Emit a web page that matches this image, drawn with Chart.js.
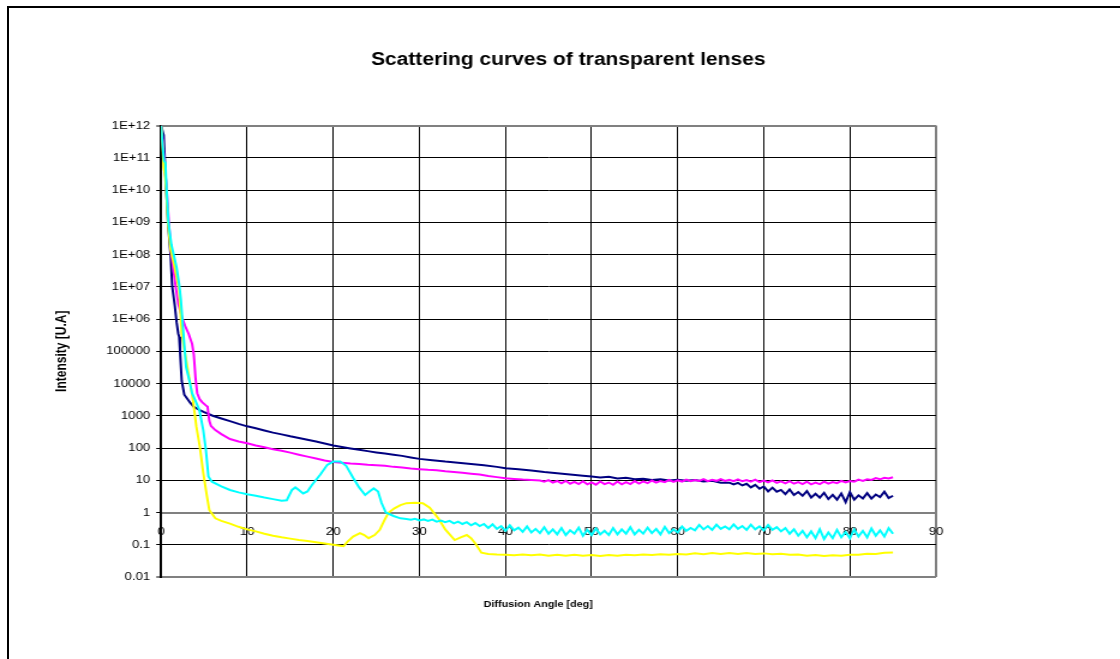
<!DOCTYPE html>
<html>
<head>
<meta charset="utf-8">
<script src="https://cdn.jsdelivr.net/npm/chart.js@4.4.1/dist/chart.umd.min.js"></script>
<style>
  html, body { margin: 0; padding: 0; background: #fff; overflow: hidden; width: 1120px; height: 659px; }
  #frame { position: absolute; left: 7px; top: 6px; width: 2000px; height: 2000px; border-top: 2px solid #000; border-left: 2px solid #000; }
  #mycanvas { position: absolute; left: 0; top: 0; transform: scaleX(1.2); transform-origin: 0 0; }
</style>
</head>
<body>
<div id="frame"></div>
<canvas id="mycanvas" width="934" height="659"></canvas>
<script>
// [angle deg, intensity U.A]
var navyData = [[0,1e12],[0.3,5e11],[0.6,1e10],[0.8,1e9],[1.1,1e8],[1.3,1e7],[1.6,2.5e6],[1.8,8e5],[2.0,3.5e5],[2.1,2.8e5],[2.2,1e5],[2.4,1.2e4],[2.7,4500],[3.0,3500],[3.4,2500],[3.8,1900],[4.5,1500],[5,1300],[6,1000],[7,820],[8,680],[9,560],[10,470],[11,410],[12,350],[13,300],[14,265],[15,230],[16,205],[17,180],[18,158],[19,138],[20,120],[21,108],[22,97],[23,88],[24,80],[25,73],[26,67],[27,62],[28,57],[29,51],[30,46],[31.5,42],[33,38],[34.5,35],[36,32],[37.5,29],[39,26],[40,23.5],[41.5,22],[43,20],[44.5,18],[46,16.5],[47.5,15],[49,13.8],[50,13],[51,12.2],[52,12.8],[53,11.4],[54,12],[55,10.8],[56,11.2],[57,10.2],[58,10.8],[59,9.8],[60,10.3],[61,9.6],[62,10.2],[63,9.2],[64,9.6],[65,8.4],[66,8.4],[66.5,7.4],[67,8.3],[67.5,6.9],[68,7.8],[68.5,6.0],[69,7.2],[69.5,5.5],[70,6.4],[70.5,4.5],[71,5.9],[71.5,4.4],[72,5.0],[72.5,3.7],[73,5.2],[73.5,3.5],[74,4.3],[74.5,3.3],[75,4.6],[75.5,2.9],[76,3.8],[76.5,2.9],[77,4.1],[77.5,2.6],[78,3.5],[78.5,2.5],[79,3.9],[79.5,2.1],[80,4.3],[80.5,2.5],[81,3.4],[81.5,2.7],[82,4.0],[82.5,2.7],[83,3.6],[83.5,3.0],[84,4.4],[84.5,2.8],[85,3.3]];

var magentaData = [[0,1e12],[0.2,3e11],[0.45,4e10],[0.65,1e10],[0.9,1e9],[1.2,1e8],[1.7,1e7],[2.0,3e6],[2.4,1.2e6],[2.8,6e5],[3.2,3.5e5],[3.6,1.7e5],[3.8,8e4],[4.0,1.5e4],[4.2,5000],[4.5,3200],[4.8,2600],[5.2,2100],[5.4,1900],[5.6,700],[5.8,480],[6.3,360],[7,270],[8,190],[9,160],[10,140],[11,120],[12,105],[13,92],[14,82],[15,72],[16,62],[17,54],[18,47],[19,41],[20,37],[21,35],[22,33],[23,32],[24,30],[25,29],[26,28],[27,26],[28,25],[29,23],[30,22],[31,21],[32,20.5],[33,19],[34,18],[35,17],[36,16],[37,15],[38,13.5],[39,12.5],[40,11.5],[41,11],[42,10.5],[43,10.2],[44,9.8],[44.5,9.0],[45,10.1],[45.5,8.5],[46,9.5],[46.5,8.0],[47,9.6],[47.5,7.8],[48,8.9],[48.5,7.6],[49,9.3],[49.5,7.5],[50,8.6],[50.5,7.3],[51,9.2],[51.5,7.6],[52,8.5],[52.5,7.2],[53,9.1],[53.5,7.5],[54,8.8],[54.5,7.6],[55,9.4],[55.5,7.9],[56,9.2],[56.5,8.1],[57,9.8],[57.5,8.4],[58,9.5],[58.5,8.7],[59,10.2],[59.5,8.9],[60,9.9],[60.5,9.1],[61,10.5],[61.5,9.3],[62,10.2],[62.5,9.5],[63,10.8],[63.5,9.4],[64,10.3],[64.5,9.6],[65,10.9],[65.5,9.5],[66,10.4],[66.5,9.4],[67,10.7],[67.5,9.3],[68,10.1],[68.5,9.1],[69,10.4],[69.5,8.8],[70,9.8],[70.5,8.6],[71,9.9],[71.5,8.3],[72,9.2],[72.5,8.0],[73,9.4],[73.5,7.8],[74,8.7],[74.5,7.6],[75,9.0],[75.5,7.5],[76,8.5],[76.5,7.6],[77,9.1],[77.5,7.8],[78,8.8],[78.5,8.1],[79,9.6],[79.5,8.5],[80,9.4],[80.5,9.0],[81,10.5],[81.5,9.6],[82,10.7],[82.5,10.2],[83,11.6],[83.5,10.7],[84,11.9],[84.5,11.3],[85,12.4]];

var cyanData = [[0,1e12],[0.2,2e11],[0.35,8e10],[0.5,7e10],[0.65,1e10],[0.85,1e9],[1.2,2e8],[1.5,9e7],[1.8,4e7],[2.1,1.2e7],[2.3,4e6],[2.6,3.5e5],[2.9,3.3e4],[3.3,1.2e4],[3.6,5000],[3.95,3100],[4.45,1500],[4.9,360],[5.2,90],[5.5,13],[5.9,9],[7,6.5],[8,5],[9,4.2],[10,3.7],[11,3.3],[12,2.9],[13,2.6],[14,2.3],[14.6,2.4],[15.2,5],[15.6,6],[16.0,5],[16.5,3.9],[17.0,4.5],[17.5,7],[18.5,15],[19.3,30],[20,38],[20.8,38],[21.5,28],[22.3,12],[23,6],[23.7,3.5],[24.2,4.5],[24.7,5.6],[25.2,4.5],[25.6,2],[26.1,1.0],[27,0.78],[27.8,0.66],[28.5,0.63],[29,0.6],[29.5,0.64],[30,0.57],[30.5,0.61],[31,0.55],[31.5,0.6],[32,0.52],[32.5,0.56],[33,0.5],[33.5,0.55],[34,0.46],[34.5,0.52],[35,0.44],[35.5,0.5],[36,0.4],[36.5,0.47],[37,0.38],[37.5,0.44],[38,0.33],[38.5,0.43],[39,0.31],[39.5,0.38],[40,0.27],[40.5,0.4],[41,0.28],[41.5,0.34],[42,0.25],[42.5,0.37],[43,0.24],[43.5,0.31],[44,0.23],[44.5,0.35],[45,0.22],[45.5,0.3],[46,0.21],[46.5,0.33],[47,0.2],[47.5,0.28],[48,0.22],[48.5,0.34],[49,0.19],[49.5,0.29],[50,0.2],[50.5,0.32],[51,0.21],[51.5,0.27],[52,0.2],[52.5,0.33],[53,0.21],[53.5,0.3],[54,0.22],[54.5,0.35],[55,0.21],[55.5,0.29],[56,0.22],[56.5,0.34],[57,0.23],[57.5,0.31],[58,0.21],[58.5,0.36],[59,0.23],[59.5,0.3],[60,0.24],[60.5,0.37],[61,0.27],[61.5,0.33],[62,0.28],[62.5,0.41],[63,0.3],[63.5,0.38],[64,0.29],[64.5,0.42],[65,0.31],[65.5,0.37],[66,0.3],[66.5,0.43],[67,0.31],[67.5,0.38],[68,0.29],[68.5,0.42],[69,0.3],[69.5,0.37],[70,0.28],[70.5,0.41],[71,0.29],[71.5,0.35],[72,0.26],[72.5,0.33],[73,0.22],[73.5,0.3],[74,0.19],[74.5,0.27],[75,0.17],[75.5,0.26],[76,0.16],[76.5,0.3],[77,0.15],[77.5,0.24],[78,0.16],[78.5,0.29],[79,0.17],[79.5,0.25],[80,0.16],[80.5,0.3],[81,0.18],[81.5,0.27],[82,0.17],[82.5,0.32],[83,0.19],[83.5,0.28],[84,0.18],[84.5,0.33],[85,0.22]];

var yellowData = [[0,1e12],[0.15,3e11],[0.3,5e10],[0.45,3e10],[0.6,1e10],[0.8,1e9],[1.1,1.5e8],[1.5,5e7],[1.8,2e7],[2.1,8e6],[2.4,3.5e5],[3.05,3.3e4],[3.7,3100],[4.1,460],[4.5,110],[4.9,17],[5.3,3.5],[5.6,1.2],[6.3,0.66],[7,0.55],[8,0.45],[9,0.36],[10,0.3],[11,0.26],[12,0.22],[13,0.19],[14,0.17],[15,0.155],[16,0.14],[17,0.13],[18,0.12],[19,0.11],[20,0.1],[20.6,0.095],[21.2,0.09],[21.6,0.12],[22.3,0.18],[23.1,0.23],[23.6,0.2],[24.1,0.16],[24.8,0.2],[25.4,0.29],[25.9,0.55],[26.4,0.98],[27.1,1.35],[27.8,1.7],[28.5,1.95],[29.5,2.0],[30.4,1.95],[31.2,1.4],[32.2,0.66],[33,0.3],[34.1,0.14],[34.8,0.17],[35.5,0.2],[36,0.16],[36.5,0.11],[37.2,0.057],[38,0.052],[39,0.05],[40,0.049],[41,0.047],[42,0.05],[43,0.047],[44,0.05],[45,0.046],[46,0.049],[47,0.046],[48,0.049],[49,0.046],[50,0.048],[51,0.045],[52,0.048],[53,0.046],[54,0.049],[55,0.047],[56,0.05],[57,0.048],[58,0.051],[59,0.049],[60,0.052],[61,0.05],[62,0.054],[63,0.051],[64,0.055],[65,0.052],[66,0.055],[67,0.052],[68,0.055],[69,0.052],[70,0.054],[71,0.051],[72,0.053],[73,0.049],[74,0.05],[75,0.046],[76,0.048],[77,0.045],[78,0.047],[79,0.046],[80,0.049],[81,0.049],[82,0.053],[83,0.052],[84,0.056],[85,0.057]];

var yTicks = [0.01,0.1,1,10,100,1000,10000,100000,1e6,1e7,1e8,1e9,1e10,1e11,1e12];
var yTickLabels = ['0.01','0.1','1','10','100','1000','10000','100000','1E+06','1E+07','1E+08','1E+09','1E+10','1E+11','1E+12'];
var xTicks = [0,10,20,30,40,50,60,70,80,90];
var xAxisTitle = 'Diffusion Angle [deg]';

var FONT = "'Liberation Sans', Arial, sans-serif";

function line(label, color, rows, order) {
  var pts = [];
  for (var i in rows) pts.push({x: rows[i][0], y: rows[i][1]});
  return {label: label, data: pts, borderColor: color, backgroundColor: color,
    borderWidth: 2, pointRadius: 0, showLine: true, fill: false, tension: 0, order: order};
}

// x axis title sits a bit left of the plot centre in the original
var xTitlePlugin = {
  id: 'xTitle',
  afterDraw: function(chart) {
    var c = chart.ctx;
    c.save();
    c.font = 'bold 9px ' + FONT;
    c.fillStyle = '#000';
    c.textAlign = 'center';
    c.textBaseline = 'middle';
    c.fillText(xAxisTitle, 448.5, 605);
    c.restore();
  }
};

var ctx = document.getElementById('mycanvas');
var chart = new Chart(ctx, {
  type: 'scatter',
  data: {
    datasets: [
      line('Series1', '#000080', navyData, 4),
      line('Series2', '#FF00FF', magentaData, 3),
      line('Series3', '#FFFF00', yellowData, 2),
      line('Series4', '#00FFFF', cyanData, 1)
    ]
  },
  plugins: [xTitlePlugin],
  options: {
    responsive: false,
    animation: false,
    layout: {padding: {left: 13, right: 0, top: 0, bottom: 0}},
    plugins: {
      legend: {display: false},
      tooltip: {enabled: false},
      title: {
        display: true,
        text: 'Scattering curves of transparent lenses',
        color: '#000',
        font: {family: FONT, size: 17.5, weight: 'bold'},
        padding: {top: 50, bottom: 54.5}
      }
    },
    scales: {
      x: {
        type: 'linear',
        position: {y: 1},
        min: 0, max: 90,
        afterBuildTicks: function(s){ s.ticks = xTicks.map(function(v){ return {value: v}; }); },
        ticks: {color: '#000', font: {family: FONT, size: 11}, padding: 9, autoSkip: false, maxRotation: 0,
          callback: function(v){ return String(v); }},
        grid: {
          color: function(c){ return c.tick && c.tick.value === 90 ? '#808080' : '#000'; },
          lineWidth: function(c){ return c.tick && c.tick.value === 90 ? 2 : 1; },
          tickLength: 4
        },
        border: {color: '#808080', width: 2}
      },
      xT: {
        type: 'linear',
        position: 'bottom',
        ticks: {display: false},
        grid: {display: false},
        border: {display: false},
        afterFit: function(s){ s.height = 82; }
      },
      y: {
        type: 'logarithmic',
        position: 'left',
        min: 0.01, max: 1e12,
        afterBuildTicks: function(s){ s.ticks = yTicks.map(function(v){ return {value: v}; }); },
        ticks: {color: '#000', font: {family: FONT, size: 11}, padding: 5, autoSkip: false,
          callback: function(v){
            for (var i in yTicks) { if (Math.abs(Math.log10(yTicks[i]) - Math.log10(v)) < 1e-6) return yTickLabels[i]; }
            return '';
          }},
        grid: {
          color: function(c){ var v = c.tick && c.tick.value; return (v === 1e12 || v === 0.01) ? '#808080' : '#000'; },
          lineWidth: function(c){ var v = c.tick && c.tick.value; return (v === 1e12 || v === 0.01) ? 2 : 1; },
          tickLength: 4
        },
        border: {color: '#000', width: 2},
        title: {display: true, text: 'Intensity [U.A]', color: '#000',
          font: {family: FONT, size: 12, weight: 'bold'}, padding: {top: 31.5, bottom: 0}},
        afterFit: function(s){ s.width = 121.2; }
      },
      yR: {
        type: 'linear',
        position: 'right',
        ticks: {display: false},
        grid: {display: false},
        border: {display: false},
        afterFit: function(s){ s.width = 154; }
      }
    }
  }
});
</script>
</body>
</html>
